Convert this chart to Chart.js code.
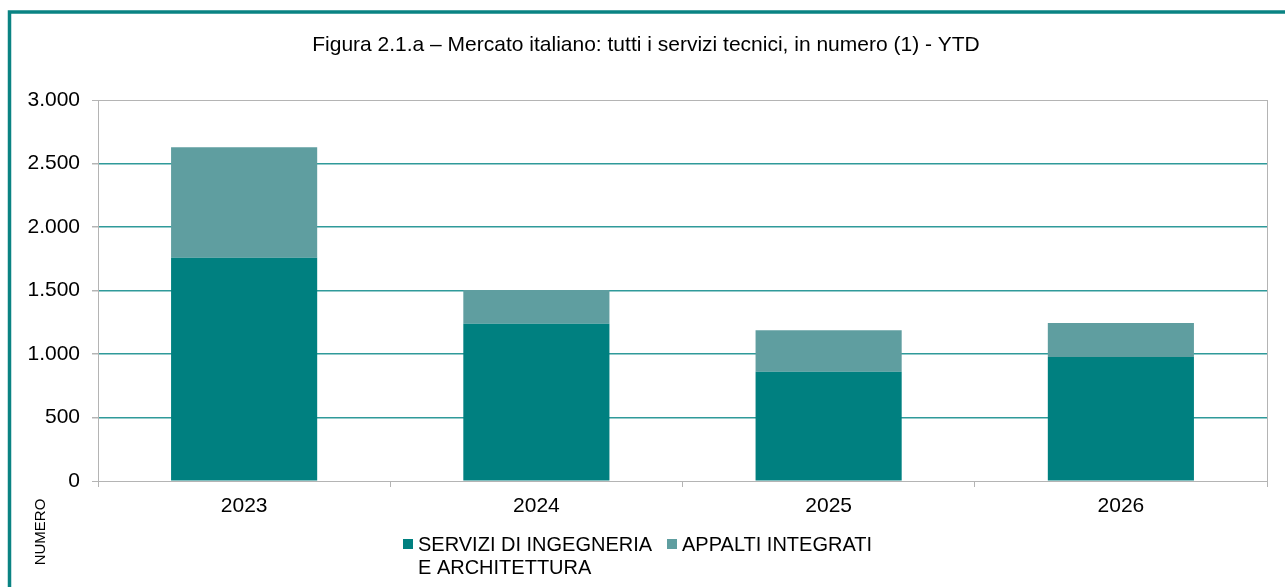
<!DOCTYPE html>
<html>
<head>
<meta charset="utf-8">
<script src="https://cdn.jsdelivr.net/npm/chart.js@4"></script>
<style>
html,body{margin:0;padding:0;background:#fff;}
canvas{display:block;}
</style>
</head>
<body>
<canvas id="c" width="1285" height="587"></canvas>
<script>
const categories = ['2023', '2024', '2025', '2026'];
const serviziIngegneria = [1758, 1239, 861, 977];
const appaltiIntegrati = [870, 264, 326, 267];
const seriesLabels = ['SERVIZI DI INGEGNERIA\nE ARCHITETTURA', 'APPALTI INTEGRATI'];
const titleText = 'Figura 2.1.a \u2013 Mercato italiano: tutti i servizi tecnici, in numero (1) - YTD';
const yAxisTitle = 'NUMERO';

const FONT = '"Liberation Sans", Arial, sans-serif';
const DARK = '#008080';
const LIGHT = '#5f9ea0';
const GRID = '#2f9a9a';
const GRAY = '#b4b4b4';

const decor = {
  id: 'decor',
  beforeDraw(chart) {
    const ctx = chart.ctx;
    ctx.save();
    ctx.fillStyle = '#fff';
    ctx.fillRect(0, 0, chart.width, chart.height);
    ctx.strokeStyle = '#0a8383';
    ctx.lineWidth = 3.5;
    ctx.beginPath();
    ctx.moveTo(9.5, chart.height + 2);
    ctx.lineTo(9.5, 12);
    ctx.lineTo(chart.width + 2, 12);
    ctx.stroke();
    ctx.fillStyle = '#000';
    ctx.font = '21px ' + FONT;
    ctx.textAlign = 'center';
    ctx.textBaseline = 'middle';
    ctx.fillText(titleText, 646, 45);
    ctx.restore();
  },
  afterDraw(chart) {
    const ctx = chart.ctx;
    const a = chart.chartArea;
    ctx.save();
    ctx.strokeStyle = GRAY;
    ctx.lineWidth = 1;
    ctx.beginPath();
    ctx.moveTo(Math.round(a.right) + 0.5, a.top);
    ctx.lineTo(Math.round(a.right) + 0.5, a.bottom + 6);
    ctx.stroke();
    ctx.fillStyle = '#000';
    ctx.font = '15px ' + FONT;
    ctx.translate(41, 532);
    ctx.rotate(-Math.PI / 2);
    ctx.textAlign = 'center';
    ctx.textBaseline = 'middle';
    ctx.fillText(yAxisTitle, 0, 0);
    ctx.restore();
    ctx.save();
    ctx.font = '20px ' + FONT;
    ctx.textBaseline = 'middle';
    ctx.textAlign = 'left';
    const starts = [403, 667];
    chart.data.datasets.forEach((ds, i) => {
      const x = starts[i];
      ctx.fillStyle = ds.backgroundColor;
      ctx.fillRect(x, 539, 10, 10);
      ctx.fillStyle = '#000';
      ds.label.split('\n').forEach((line, j) => {
        ctx.fillText(line, x + 15, 545 + j * 23);
      });
    });
    ctx.restore();
  }
};

new Chart(document.getElementById('c'), {
  type: 'bar',
  data: {
    labels: categories,
    datasets: [
      { label: seriesLabels[0], data: serviziIngegneria, backgroundColor: DARK, borderWidth: 0 },
      { label: seriesLabels[1], data: appaltiIntegrati, backgroundColor: LIGHT, borderWidth: 0 }
    ]
  },
  options: {
    responsive: false,
    animation: false,
    devicePixelRatio: 1,
    layout: { padding: { top: 100, right: 18, left: 0, bottom: 0 } },
    plugins: { legend: { display: false }, title: { display: false }, tooltip: { enabled: false } },
    datasets: { bar: { barPercentage: 0.5, categoryPercentage: 1 } },
    scales: {
      x: {
        stacked: true,
        afterFit(s) { s.height = 106; },
        grid: { offset: true, drawOnChartArea: false, drawTicks: true, tickLength: 6, tickColor: GRAY },
        border: { color: GRAY, width: 1 },
        ticks: { color: '#000', font: { family: FONT, size: 21 }, padding: 7 }
      },
      y: {
        stacked: true,
        min: 0, max: 3000,
        afterFit(s) { s.width = 98; },
        grid: {
          color: (c) => (c.index === 0 || c.index === 6) ? GRAY : GRID,
          tickColor: GRAY,
          tickLength: 6,
          lineWidth: (c) => (c.index === 0 || c.index === 6) ? 1 : 1.5
        },
        border: { color: GRAY, width: 1 },
        ticks: {
          stepSize: 500,
          color: '#000',
          font: { family: FONT, size: 21 },
          padding: 12,
          callback: (v) => v.toLocaleString('de-DE')
        }
      }
    }
  },
  plugins: [decor]
});
</script>
</body>
</html>
